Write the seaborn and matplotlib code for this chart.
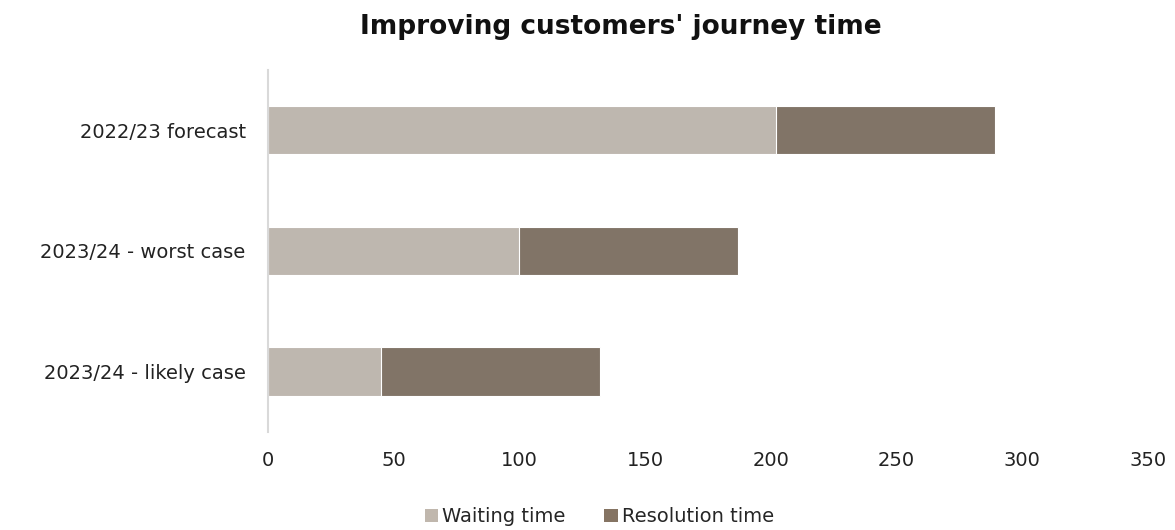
import numpy as np
import pandas as pd
import matplotlib
matplotlib.use("Agg")
import matplotlib.pyplot as plt
import seaborn as sns
from matplotlib.patches import Patch

categories = ['2022/23 forecast', '2023/24 - worst case', '2023/24 - likely case']
waiting = [202, 100, 45]
resolution = [87, 87, 87]
series_names = ['Waiting time', 'Resolution time']
colors = ['#C0B7AD', '#857463']

df = pd.DataFrame({'case': categories, 'waiting': waiting, 'resolution': resolution})
df['total'] = df['waiting'] + df['resolution']

sns.set_theme(style='white')
plt.rcParams['font.family'] = ['DejaVu Sans']

fig = plt.figure(figsize=(11.75, 5.3), dpi=100)
ax = fig.add_axes([0.228, 0.185, 0.749, 0.683])

# stacked bars: draw totals first, then the waiting part on top
sns.barplot(data=df, y='case', x='total', color=colors[1], width=0.4,
            orient='h', edgecolor='white', linewidth=0.8, ax=ax)
sns.barplot(data=df, y='case', x='waiting', color=colors[0], width=0.4,
            orient='h', edgecolor='white', linewidth=0.8, ax=ax)

ax.set_xlim(0, 350)
ax.set_ylim(2.5, -0.5)
ax.set_xticks(np.arange(0, 351, 50))
ax.set_xlabel('')
ax.set_ylabel('')
ax.tick_params(axis='x', length=0, pad=14, labelsize=14, colors='#222222')
ax.tick_params(axis='y', length=0, pad=16, labelsize=14, colors='#222222')

for s in ['top', 'right', 'bottom']:
    ax.spines[s].set_visible(False)
ax.spines['left'].set_color('#D9D9D9')
ax.spines['left'].set_linewidth(1.5)

fig.text(0.528, 0.950, "Improving customers' journey time", ha='center', va='center',
         fontsize=19, fontweight='bold', color='#111111')

handles = [Patch(facecolor=c, edgecolor='none') for c in colors]
fig.legend(handles, series_names, loc='center', bbox_to_anchor=(0.51, 0.025),
           ncol=2, frameon=False, fontsize=14, handlelength=0.7, handleheight=0.7,
           handletextpad=0.2, columnspacing=2.0)

fig.savefig('out.png', dpi=100)
